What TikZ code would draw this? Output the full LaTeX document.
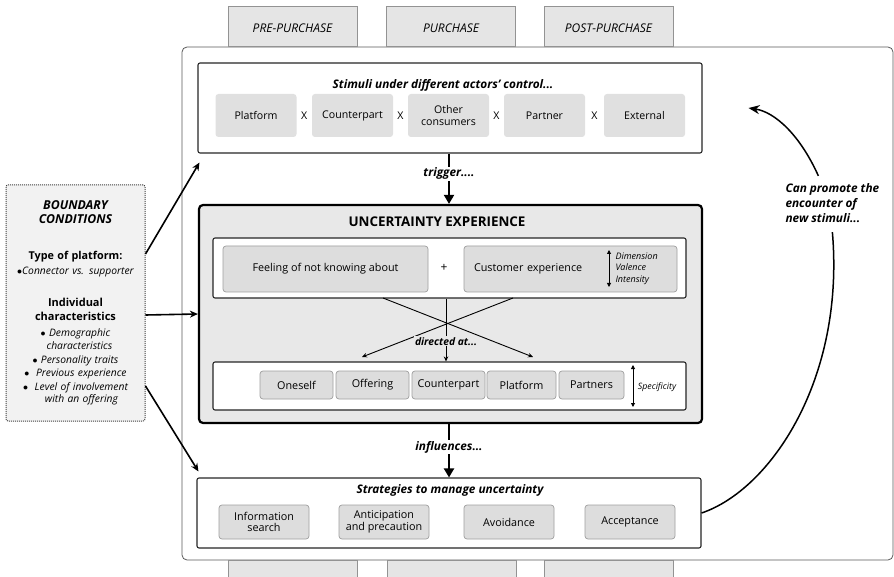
\documentclass[tikz,border=0pt]{standalone}
\usepackage{fontspec}
\setmainfont{Open Sans}
\usetikzlibrary{arrows.meta, positioning}

\begin{document}
\begin{tikzpicture}[
    x=1pt, y=-1pt,
    phase/.style={rectangle, draw=gray!85, fill=gray!20, line width=0.6pt,
                  minimum width=129pt, minimum height=40pt, text height=12pt,
                  font=\itshape\fontsize{12}{14}\selectfont},
    panel/.style={rectangle, draw=black!85, fill=white, rounded corners=2pt,
                  line width=1.1pt},
    stimbox/.style={rectangle, fill=gray!24, rounded corners=3pt,
                    minimum width=81pt, minimum height=43pt, align=center,
                    font=\fontsize{10.6}{11.5}\selectfont},
    greybox/.style={rectangle, draw=gray!75, fill=gray!27, rounded corners=3pt,
                    line width=0.7pt, align=center,
                    font=\fontsize{10.8}{11.5}\selectfont},
    title/.style={font=\bfseries\itshape\fontsize{11.8}{13}\selectfont},
    bigarrow/.style={-{Triangle[length=9pt,width=10pt]}, line width=2pt},
    sidearrow/.style={-{Stealth[length=8pt,width=7pt]}, line width=1.6pt},
    thinarrow/.style={-{Stealth[length=5pt,width=4.5pt]}, line width=0.9pt},
    dblarrow/.style={{Triangle[length=4pt,width=4pt]}-{Triangle[length=4pt,width=4pt]},
                     line width=0.9pt}
]
  \useasboundingbox (0,0) rectangle (894,577);

  % journey frame and phases
  \draw[draw=black!65, line width=0.8pt, rounded corners=5pt]
    (182,47) rectangle (893,560);
  \node[phase, anchor=south] (pre)  at (292.5,47) {PRE-PURCHASE};
  \node[phase, anchor=south] (pur)  at (451,47)   {PURCHASE};
  \node[phase, anchor=south] (post) at (608.5,47) {POST-PURCHASE};
  \begin{scope}
    \clip (0,0) rectangle (894,577);
    \foreach \xa in {228,387,544}
      \draw[draw=gray!85, fill=gray!20, line width=0.6pt]
        (\xa,560) rectangle ++(129,30);
  \end{scope}

  % stimuli
  \node[panel, minimum width=504pt, minimum height=90pt] (stim) at (450,108) {};
  \node[title] at (443,85) {Stimuli under different actors' control...};
  \node[stimbox] (s1) at (256,115.5)   {Platform};
  \node[stimbox] (s2) at (352.5,115.5) {Counterpart};
  \node[stimbox] (s3) at (448.5,115.5) {Other\\consumers};
  \node[stimbox] (s4) at (544.5,115.5) {Partner};
  \node[stimbox] (s5) at (644.5,115.5) {External};
  \foreach \a/\b in {s1/s2, s2/s3, s3/s4, s4/s5}
    \path (\a) -- node[font=\fontsize{10.6}{11.5}\selectfont] {X} (\b);

  % uncertainty experience
  \node[rectangle, draw=black, fill=gray!18, rounded corners=4pt, line width=2.2pt,
        minimum width=503pt, minimum height=218pt] (uncert) at (450.5,314) {};
  \node[font=\bfseries\fontsize{13.4}{15}\selectfont] at (437,222) {UNCERTAINTY EXPERIENCE};
  \node[panel, minimum width=473pt, minimum height=60pt] (know) at (449.5,268) {};
  \node[greybox, minimum width=205pt, minimum height=46pt] (feel) at (325.5,269)
    {Feeling of not knowing about};
  \node[font=\fontsize{12}{13}\selectfont] (plus) at (444,268) {+};
  \node[greybox, minimum width=213pt, minimum height=46pt, text width=193pt,
        inner xsep=10pt, align=left] (cust) at (570.5,269) {Customer experience};
  \draw[dblarrow] (609,250) -- (609,287);
  \node[anchor=west, align=left, font=\itshape\fontsize{9}{11.5}\selectfont]
    (dims) at (612,268.5) {Dimension\\Valence\\Intensity};

  \node[panel, minimum width=473pt, minimum height=48pt] (targ) at (449.5,386) {};
  \node[greybox, minimum width=73pt, minimum height=28pt] (t1) at (296.5,385) {Oneself};
  \node[greybox, minimum width=73pt, minimum height=28pt] (t2) at (372.5,385) {Offering};
  \node[greybox, minimum width=73pt, minimum height=28pt] (t3) at (448.5,385) {Counterpart};
  \node[greybox, minimum width=69pt, minimum height=28pt] (t4) at (521.5,385) {Platform};
  \node[greybox, minimum width=65pt, minimum height=28pt] (t5) at (591.5,385) {Partners};
  \draw[dblarrow] (633,365) -- (633,407);
  \node[font=\itshape\fontsize{8.8}{10}\selectfont] (spec) at (657,387) {Specificity};

  \coordinate (fromleft)  at (383,298);
  \coordinate (fromright) at (513,298);
  \draw[thinarrow] (fromleft) -- (533,357);
  \draw[thinarrow] (fromright) -- (362,357);
  \draw[thinarrow] (know.south -| 446,0) -- node[pos=0.68, fill=gray!18, inner sep=1pt,
    font=\bfseries\itshape\fontsize{10.3}{11}\selectfont] {directed at...} (targ.north -| 446,0);

  % strategies
  \node[panel, minimum width=504pt, minimum height=70pt] (strat) at (449,513) {};
  \node[title] at (450,490) {Strategies to manage uncertainty};
  \node[greybox, minimum width=90pt, minimum height=34pt] (g1) at (264,522) {Information\\search};
  \node[greybox, minimum width=90pt, minimum height=34pt] (g2) at (384,522) {Anticipation\\and precaution};
  \node[greybox, minimum width=90pt, minimum height=34pt] (g3) at (509,522) {Avoidance};
  \node[greybox, minimum width=90pt, minimum height=34pt] (g4) at (630,522) {Acceptance};

  % flow between the panels
  \draw[bigarrow] (stim.south -| 449,0) -- node[pos=0.4, fill=white, inner sep=1pt, title] {trigger....}
    (uncert.north -| 449,0);
  \draw[bigarrow] (uncert.south -| 449,0) -- node[pos=0.43, fill=white, inner sep=1pt, title] {influences...}
    (strat.north -| 449,0);

  % boundary conditions
  \node[rectangle, draw=black!75, densely dotted, line width=1pt, fill=gray!10,
        rounded corners=2pt, minimum width=139pt, minimum height=236pt,
        text width=137pt, align=center, inner sep=0pt] (bound) at (75.5,303)
    {\bfseries\itshape\fontsize{12.3}{14}\selectfont BOUNDARY\\CONDITIONS\\[22pt]
     \upshape\fontsize{10.8}{14}\selectfont Type of platform:\\
     \mdseries\itshape\fontsize{10.3}{15}\selectfont $\bullet$Connector vs. supporter\\[18pt]
     \bfseries\upshape\fontsize{11}{14}\selectfont Individual\\characteristics\\[2pt]
     \mdseries\itshape\fontsize{10.3}{13.5}\selectfont $\bullet$ Demographic\\
     \hspace*{8pt}characteristics\\
     $\bullet$ Personality traits\\
     $\bullet$\ \ Previous experience\\
     $\bullet$\ \ Level of involvement\\
     \hspace*{12pt}with an offering};

  \draw[sidearrow] ([yshift=49pt]bound.east) -- ([xshift=2pt,yshift=-9pt]stim.south west);
  \draw[sidearrow] ([yshift=-12pt]bound.east) -- (uncert.west);
  \draw[sidearrow] ([yshift=-83pt]bound.east) -- ([xshift=2pt,yshift=6pt]strat.north west);

  % feedback loop
  \node[anchor=west, align=left, font=\bfseries\itshape\fontsize{11.8}{15}\selectfont]
    (promote) at (782,203) {Can promote the\\encounter of\\new stimuli...};
  \draw[line width=1.5pt] (strat.east) .. controls (770,490) and (845,380) ..
    ([yshift=-6pt]promote.south);
  \draw[-{Stealth[length=11pt,width=9pt]}, line width=1.5pt]
    ([xshift=-14pt,yshift=4pt]promote.north) .. controls (800,135) and (775,112) ..
    ([xshift=46pt]stim.east);
\end{tikzpicture}
\end{document}
